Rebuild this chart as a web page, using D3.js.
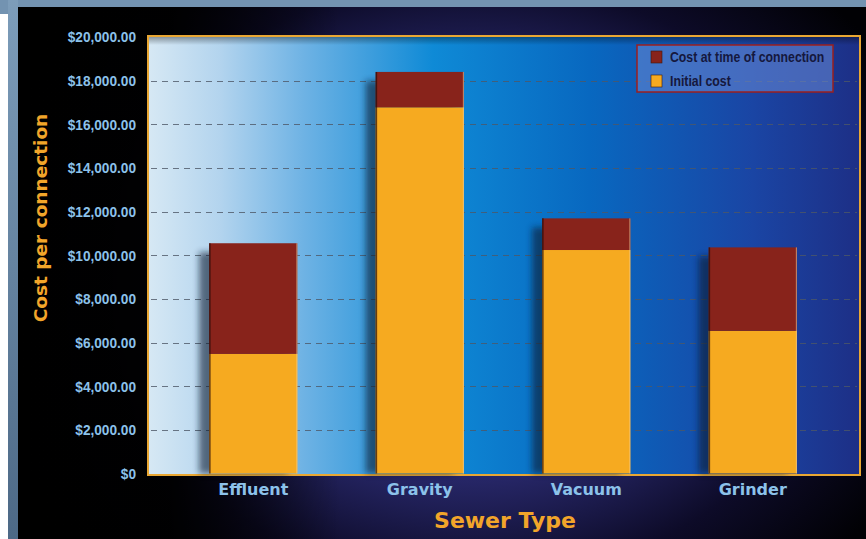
<!DOCTYPE html>
<html>
<head>
<meta charset="utf-8">
<script src="https://cdn.jsdelivr.net/npm/d3@7"></script>
<style>
  html, body { margin: 0; padding: 0; background: #fff; }
  svg { display: block; }
</style>
</head>
<body>
<div id="chart"></div>
<script>
// data
var categories = ["Effluent", "Gravity", "Vacuum", "Grinder"];
var initialCost = [5480, 16780, 10240, 6540];
var connectionCost = [5070, 1620, 1450, 3820];
var yTicks = [0, 2000, 4000, 6000, 8000, 10000, 12000, 14000, 16000, 18000, 20000];
var seriesNames = ["Initial cost", "Cost at time of connection"];
var legendOrder = ["Cost at time of connection", "Initial cost"];

var width = 866, height = 539;
var colors = {"Initial cost": "#f6aa20", "Cost at time of connection": "#88231b"};

// plot box
var plot = {left: 149, right: 859, top: 37, bottom: 474};

var formatMoney = d3.format("$,.2f");

var svg = d3.select("#chart")
  .append("svg")
  .attr("width", width)
  .attr("height", height);

var defs = svg.append("defs");

// outer frame gradient (left strip)
var strip = defs.append("linearGradient").attr("id", "strip")
  .attr("x1", 0).attr("y1", 0).attr("x2", 0).attr("y2", 1);
strip.append("stop").attr("offset", "0%").attr("stop-color", "#7d9dba");
strip.append("stop").attr("offset", "100%").attr("stop-color", "#4d6986");

// dark panel radial glow
var glow = defs.append("radialGradient").attr("id", "glow")
  .attr("gradientUnits", "userSpaceOnUse")
  .attr("cx", 470).attr("cy", 280).attr("r", 500)
  .attr("gradientTransform", "translate(470,280) scale(1,0.8) translate(-470,-280)");
glow.append("stop").attr("offset", "0%").attr("stop-color", "#363a8c");
glow.append("stop").attr("offset", "50%").attr("stop-color", "#262666");
glow.append("stop").attr("offset", "75%").attr("stop-color", "#0d0b28");
glow.append("stop").attr("offset", "100%").attr("stop-color", "#010104");

var sideDark = defs.append("linearGradient").attr("id", "sideDark")
  .attr("x1", 0).attr("y1", 0).attr("x2", 1).attr("y2", 0);
sideDark.append("stop").attr("offset", "0%").attr("stop-color", "#000").attr("stop-opacity", 1);
sideDark.append("stop").attr("offset", "18%").attr("stop-color", "#000").attr("stop-opacity", 0.95);
sideDark.append("stop").attr("offset", "38%").attr("stop-color", "#000").attr("stop-opacity", 0);
sideDark.append("stop").attr("offset", "100%").attr("stop-color", "#000").attr("stop-opacity", 0);

// plot area gradient
var plotGrad = defs.append("linearGradient").attr("id", "plotGrad")
  .attr("x1", 0).attr("y1", 0).attr("x2", 1).attr("y2", 0);
[["0%", "#d6e8f4"], ["10%", "#b3d4ee"], ["22%", "#6db2e4"], ["40%", "#0f8ad6"],
 ["62%", "#0868c0"], ["85%", "#1a45a4"], ["100%", "#1d2f86"]].forEach(function(s) {
  plotGrad.append("stop").attr("offset", s[0]).attr("stop-color", s[1]);
});

var topShade = defs.append("linearGradient").attr("id", "topShade")
  .attr("x1", 0).attr("y1", 0).attr("x2", 0).attr("y2", 1);
topShade.append("stop").attr("offset", "0%").attr("stop-color", "#000").attr("stop-opacity", 0.35);
topShade.append("stop").attr("offset", "100%").attr("stop-color", "#000").attr("stop-opacity", 0);

var blur = defs.append("filter").attr("id", "blur")
  .attr("x", "-30%").attr("y", "-10%").attr("width", "160%").attr("height", "120%");
blur.append("feGaussianBlur").attr("stdDeviation", 3);

// background pieces
svg.append("rect").attr("x", 0).attr("y", 0).attr("width", width).attr("height", height)
  .attr("fill", "#ffffff");
svg.append("rect").attr("x", 0).attr("y", 0).attr("width", width).attr("height", 8)
  .attr("fill", "#7393b1");
svg.append("rect").attr("x", 0).attr("y", 0).attr("width", 8).attr("height", 14)
  .attr("fill", "#7393b1");
svg.append("rect").attr("x", 8).attr("y", 0).attr("width", 10).attr("height", height)
  .attr("fill", "url(#strip)");
svg.append("rect").attr("x", 18).attr("y", 7).attr("width", width - 18).attr("height", height - 7)
  .attr("fill", "url(#glow)");
svg.append("rect").attr("x", 18).attr("y", 7).attr("width", width - 18).attr("height", height - 7)
  .attr("fill", "url(#sideDark)");

// scales
var x = d3.scaleBand()
  .domain(categories)
  .range([170, 836])
  .paddingInner(0.47)
  .paddingOuter(0.235);

var y = d3.scaleLinear()
  .domain([0, 20000])
  .range([plot.bottom - 0.5, plot.top]);

// plot area
svg.append("rect")
  .attr("x", plot.left - 2).attr("y", plot.top - 2)
  .attr("width", plot.right - plot.left + 4).attr("height", plot.bottom - plot.top + 4)
  .attr("fill", "#e9a733");
svg.append("rect")
  .attr("x", plot.left).attr("y", plot.top)
  .attr("width", plot.right - plot.left).attr("height", plot.bottom - plot.top)
  .attr("fill", "url(#plotGrad)");
svg.append("rect")
  .attr("x", plot.left).attr("y", plot.top)
  .attr("width", plot.right - plot.left).attr("height", 8)
  .attr("fill", "url(#topShade)");

// gridlines
svg.append("g")
  .selectAll("line")
  .data(yTicks.filter(function(d) { return d > 0 && d < 20000; }))
  .join("line")
  .attr("x1", plot.left + 2)
  .attr("x2", plot.right - 2)
  .attr("y1", function(d) { return Math.round(y(d)) + 0.5; })
  .attr("y2", function(d) { return Math.round(y(d)) + 0.5; })
  .attr("stroke", "#4d5866")
  .attr("stroke-opacity", 0.8)
  .attr("stroke-width", 1)
  .attr("stroke-dasharray", "6,5");

// stacked data
var rows = categories.map(function(c, i) {
  return {cat: c, "Initial cost": initialCost[i], "Cost at time of connection": connectionCost[i]};
});
var stacked = d3.stack().keys(seriesNames)(rows);

// bar shadows
svg.append("g")
  .selectAll("rect")
  .data(rows)
  .join("rect")
  .attr("x", function(d) { return x(d.cat) - 10; })
  .attr("y", function(d) { return y(d["Initial cost"] + d["Cost at time of connection"]) + 9; })
  .attr("width", x.bandwidth())
  .attr("height", function(d) { return y(0) - y(d["Initial cost"] + d["Cost at time of connection"]) - 9; })
  .attr("fill", "#0a1a33")
  .attr("opacity", 0.6)
  .attr("filter", "url(#blur)");

// bars
svg.append("g")
  .selectAll("g")
  .data(stacked)
  .join("g")
  .attr("fill", function(s) { return colors[s.key]; })
  .selectAll("rect")
  .data(function(s) { return s; })
  .join("rect")
  .attr("x", function(d) { return x(d.data.cat); })
  .attr("y", function(d) { return y(d[1]); })
  .attr("width", x.bandwidth())
  .attr("height", function(d) { return y(d[0]) - y(d[1]); });

// bar edges
var edges = svg.append("g");
edges.selectAll("line.l")
  .data(rows)
  .join("line")
  .attr("class", "l")
  .attr("x1", function(d) { return x(d.cat) + 0.75; })
  .attr("x2", function(d) { return x(d.cat) + 0.75; })
  .attr("y1", function(d) { return y(d["Initial cost"] + d["Cost at time of connection"]); })
  .attr("y2", y(0))
  .attr("stroke", "#2a0d08")
  .attr("stroke-opacity", 0.7)
  .attr("stroke-width", 1.5);
edges.selectAll("line.r")
  .data(rows)
  .join("line")
  .attr("class", "r")
  .attr("x1", function(d) { return x(d.cat) + x.bandwidth() - 0.5; })
  .attr("x2", function(d) { return x(d.cat) + x.bandwidth() - 0.5; })
  .attr("y1", function(d) { return y(d["Initial cost"] + d["Cost at time of connection"]); })
  .attr("y2", y(0))
  .attr("stroke", "#f6d3a0")
  .attr("stroke-opacity", 0.6)
  .attr("stroke-width", 1);

// y axis labels (narrow look: squeeze horizontally)
var yAxis = d3.axisLeft(y)
  .tickValues(yTicks)
  .tickSize(0)
  .tickPadding(0)
  .tickFormat(function(d) { return d === 0 ? "$0" : formatMoney(d); });

var yg = svg.append("g")
  .attr("transform", "translate(136,0)")
  .call(yAxis);
yg.select(".domain").remove();
yg.selectAll("text")
  .attr("fill", "#8cc2ea")
  .attr("font-family", "'Liberation Sans', Arial, sans-serif")
  .attr("font-weight", "bold")
  .attr("font-size", 15)
  .attr("transform", "scale(0.91,1)");

// x axis labels
var xAxis = d3.axisBottom(x).tickSize(0).tickPadding(0);
var xg = svg.append("g")
  .attr("transform", "translate(0,486)")
  .call(xAxis);
xg.select(".domain").remove();
xg.selectAll("text")
  .attr("fill", "#8cc2ea")
  .attr("font-family", "'DejaVu Sans', sans-serif")
  .attr("font-weight", "bold")
  .attr("font-size", 16)
  .attr("dy", "0.55em");

// axis titles
svg.append("text")
  .attr("transform", "translate(47,218) rotate(-90)")
  .attr("text-anchor", "middle")
  .attr("fill", "#f2a52a")
  .attr("font-family", "'DejaVu Sans', sans-serif")
  .attr("font-weight", "bold")
  .attr("font-size", 18.5)
  .text("Cost per connection");

svg.append("text")
  .attr("x", 505)
  .attr("y", 528)
  .attr("text-anchor", "middle")
  .attr("fill", "#f2a52a")
  .attr("font-family", "'DejaVu Sans', sans-serif")
  .attr("font-weight", "bold")
  .attr("font-size", 22)
  .text("Sewer Type");

// legend
var legend = svg.append("g").attr("transform", "translate(637,45)");
legend.append("rect")
  .attr("width", 196).attr("height", 47)
  .attr("fill", "#6a8ad6")
  .attr("fill-opacity", 0.55)
  .attr("stroke", "#9a1f1f")
  .attr("stroke-width", 1.5);
var items = legend.selectAll("g.item")
  .data(legendOrder)
  .join("g")
  .attr("class", "item")
  .attr("transform", function(d, i) { return "translate(14," + (6 + i * 24) + ")"; });
items.append("rect")
  .attr("width", 11).attr("height", 12)
  .attr("fill", function(d) { return colors[d]; })
  .attr("stroke", "#3a1a10")
  .attr("stroke-width", 0.6);
items.append("text")
  .attr("x", 19)
  .attr("y", 6)
  .attr("dy", "0.35em")
  .attr("fill", "#15183e")
  .attr("font-family", "'Liberation Sans', Arial, sans-serif")
  .attr("font-weight", "bold")
  .attr("font-size", 15)
  .attr("transform", "translate(19,0) scale(0.82,1) translate(-19,0)")
  .text(function(d) { return d; });
</script>
</body>
</html>
